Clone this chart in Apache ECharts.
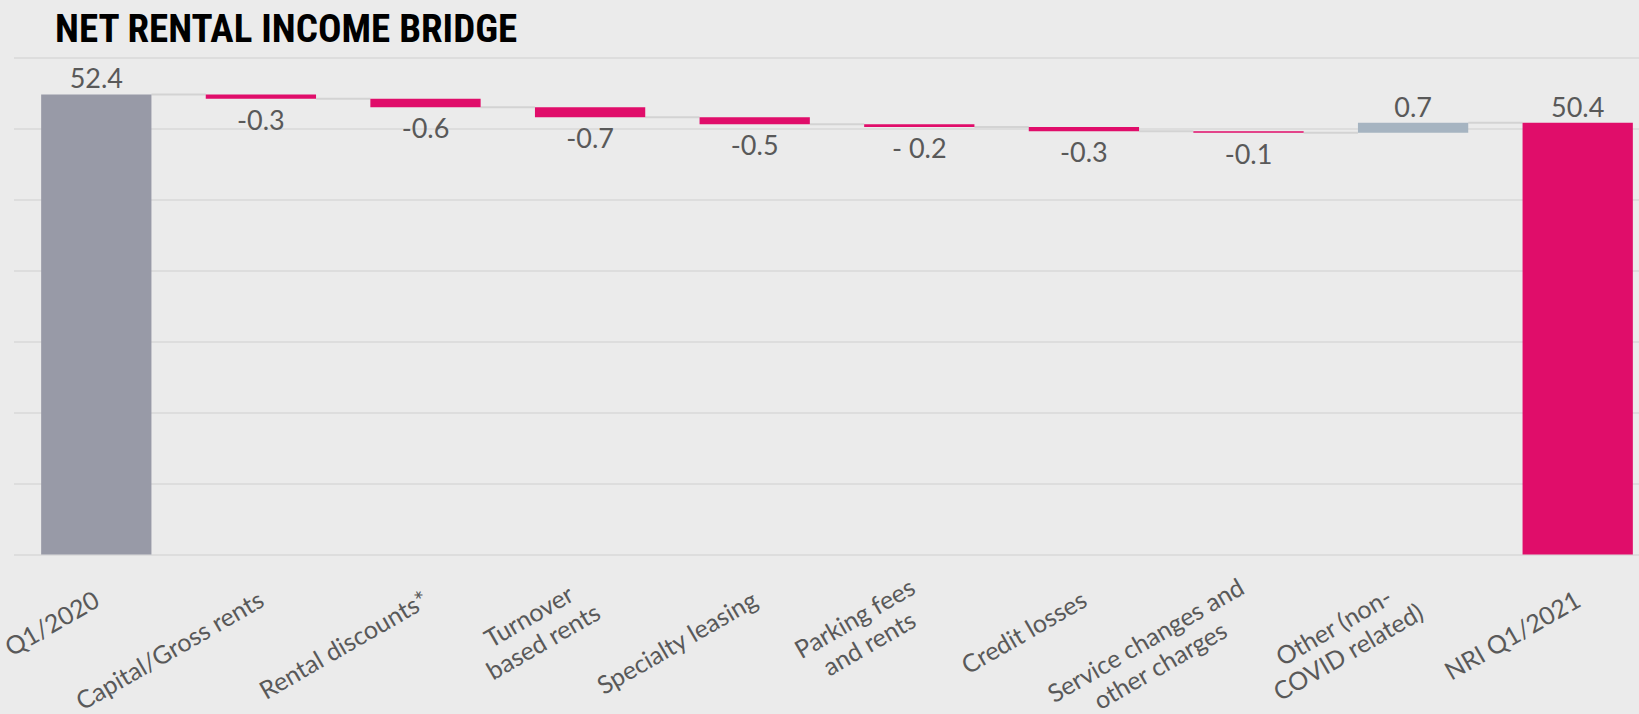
<!DOCTYPE html>
<html>
<head>
<meta charset="utf-8">
<script src="https://cdn.jsdelivr.net/npm/echarts@6/dist/echarts.min.js"></script>
<style>
  html, body { margin: 0; padding: 0; background: #ebebeb; }
  #chart { width: 1639px; height: 714px; }
</style>
</head>
<body>
<div id="chart"></div>
<script>
// ---- data ----
const categories = [
  'Q1/2020',
  'Capital/Gross rents',
  'Rental discounts*',
  'Turnover\nbased rents',
  'Specialty leasing',
  'Parking fees\nand rents',
  'Credit losses',
  'Service changes and\nother charges',
  'Other (non-\nCOVID related)',
  'NRI Q1/2021'
];
const deltas = [52.4, -0.3, -0.6, -0.7, -0.5, -0.2, -0.3, -0.1, 0.7, 50.4];
const kinds = ['start', 'neg', 'neg', 'neg', 'neg', 'neg', 'neg', 'neg', 'pos', 'end'];
const valueLabels = ['52.4', '-0.3', '-0.6', '-0.7', '-0.5', '- 0.2', '-0.3', '-0.1', '0.7', '50.4'];
const yMin = 20, yMax = 55, yInterval = 5;
const title = 'NET RENTAL INCOME BRIDGE';

// ---- styles ----
const kindColor = { start: '#989aa7', neg: '#e00d6a', pos: '#a6b4c1', end: '#e00d6a' };
const BAR_RATIO = 0.67;
const labelColor = '#595959';

// ---- waterfall computation ----
const r1 = v => Math.round(v * 10) / 10;
const baseVals = [], barVals = [], levels = [];
let level = 0;
deltas.forEach((d, i) => {
  if (kinds[i] === 'start' || kinds[i] === 'end') {
    baseVals.push(0);
    barVals.push(d);
    level = d;
  } else {
    const next = r1(level + d);
    baseVals.push(Math.min(level, next));
    barVals.push(Math.abs(d));
    level = next;
  }
  levels.push(level);
});
const connectorData = levels.slice(0, -1).map((lv, i) => [i, lv]);

const barData = barVals.map((v, i) => ({
  value: v,
  itemStyle: { color: kindColor[kinds[i]] },
  label: { position: kinds[i] === 'neg' ? 'bottom' : 'top', distance: kinds[i] === 'neg' ? 7 : 3 }
}));

const chart = echarts.init(document.getElementById('chart'), null, { renderer: 'svg' });
chart.setOption({
  backgroundColor: '#ebebeb',
  animation: false,
  title: {
    text: title,
    left: 50,
    top: 4,
    textStyle: {
      fontFamily: "'Liberation Sans Narrow', 'Roboto Condensed', Roboto, sans-serif",
      fontWeight: 'bold',
      fontSize: 39,
      color: '#000000'
    }
  },
  grid: { left: 14, top: 57.5, width: 1646, height: 497, outerBoundsMode: 'none', containLabel: false },
  xAxis: {
    type: 'category',
    data: categories,
    axisLine: { show: false },
    axisTick: { show: false },
    axisLabel: {
      interval: 0,
      rotate: 30,
      margin: 42,
      color: labelColor,
      fontFamily: 'Lato, sans-serif',
      fontSize: 25,
      lineHeight: 29,
      hideOverlap: false,
      formatter: v => v.split('\n').map(s => '{c|' + s + '}').join('\n'),
      rich: {
        c: { align: 'center', color: labelColor, fontFamily: 'Lato, sans-serif', fontSize: 25, lineHeight: 29 }
      }
    }
  },
  yAxis: {
    type: 'value',
    min: yMin,
    max: yMax,
    interval: yInterval,
    axisLabel: { show: false },
    axisLine: { show: false },
    axisTick: { show: false },
    splitLine: { lineStyle: { color: '#d8d8d8', width: 1.5 } }
  },
  series: [
    {
      type: 'bar',
      stack: 'w',
      data: baseVals,
      barWidth: (BAR_RATIO * 100) + '%',
      itemStyle: { color: 'rgba(0,0,0,0)' },
      silent: true,
      clip: true
    },
    {
      type: 'bar',
      stack: 'w',
      data: barData,
      barWidth: (BAR_RATIO * 100) + '%',
      clip: true,
      label: {
        show: true,
        color: labelColor,
        fontFamily: 'Lato, sans-serif',
        fontSize: 27,
        formatter: p => valueLabels[p.dataIndex]
      }
    },
    {
      type: 'custom',
      data: connectorData,
      silent: true,
      z: 1,
      renderItem: (params, api) => {
        const p = api.coord([api.value(0), api.value(1)]);
        const band = api.size([1, 0])[0];
        const half = band * BAR_RATIO / 2;
        return {
          type: 'line',
          shape: { x1: p[0] + half, y1: p[1], x2: p[0] + band - half, y2: p[1] },
          style: { stroke: '#d3d3d3', lineWidth: 2 }
        };
      }
    }
  ]
});
</script>
</body>
</html>
